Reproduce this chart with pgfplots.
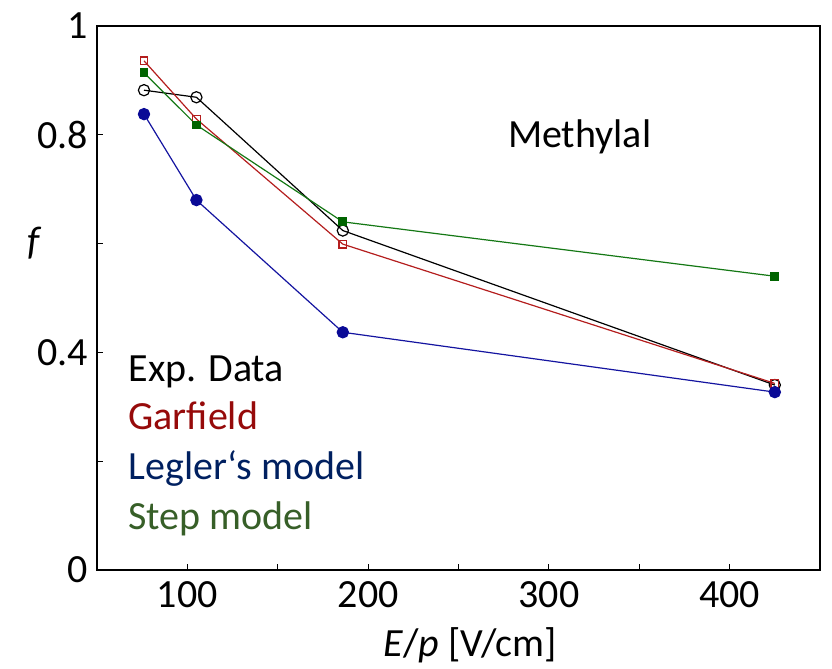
\documentclass[border=0pt]{standalone}
\usepackage{pgfplots}
\pgfplotsset{compat=1.18}
\usepackage{fontspec}
\setmainfont{Carlito}
\definecolor{gline}{RGB}{180,30,30}
\definecolor{gtext}{RGB}{150,10,10}
\definecolor{lline}{RGB}{20,20,160}
\definecolor{lmark}{RGB}{10,10,150}
\definecolor{ltext}{RGB}{0,32,96}
\definecolor{sline}{RGB}{20,120,20}
\definecolor{smark}{RGB}{0,100,0}
\definecolor{stext}{RGB}{55,95,40}
\begin{document}
\begin{tikzpicture}
\begin{axis}[
  scale only axis,
  width=361.5pt, height=272pt,
  xmin=50, xmax=450, ymin=0, ymax=1,
  xtick={100,200,300,400},
  minor xtick={150,250,350},
  ytick={0,0.4,0.8,1},
  yticklabels={0,0.4,0.8,1},
  minor ytick={0.2,0.6},
  xtick pos=bottom, ytick pos=left,
  tick align=inside,
  major tick length=3pt, minor tick length=3pt,
  every tick/.style={black, line width=0.5pt},
  axis line style={line width=0.6pt},
  /pgf/number format/assume math mode=true,
  ticklabel style={font=\fontsize{20}{24}\selectfont},
  xticklabel style={yshift=-2pt},
  yticklabel style={xshift=-1pt},
  xlabel={\textit{E}/\textit{p} [V/cm]},
  xlabel style={font=\fontsize{20}{24}\selectfont, at={(axis description cs:0.516,-0.138)}, anchor=center},
  ylabel={\textit{f}},
  ylabel style={font=\fontsize{20}{24}\selectfont, at={(axis description cs:-0.086,0.6)}, anchor=center, rotate=-90},
  clip=false,
]
\addplot[black, line width=0.6pt, mark=o, mark size=2.8pt, mark options={line width=0.6pt}]
  coordinates {(76,0.882) (105,0.869) (186,0.624) (425,0.340)};
\addplot[gline, line width=0.6pt, mark=square, mark size=1.9pt, mark options={line width=0.6pt}]
  coordinates {(76,0.936) (105,0.829) (186,0.599) (425,0.343)};
\addplot[lline, line width=0.6pt, mark=*, mark size=2.8pt, mark options={fill=lmark, draw=lmark}]
  coordinates {(76,0.838) (105,0.680) (186,0.437) (425,0.327)};
\addplot[sline, line width=0.6pt, mark=square*, mark size=1.9pt, mark options={fill=smark, draw=smark}]
  coordinates {(76,0.914) (105,0.818) (186,0.640) (425,0.540)};
\node[anchor=base west, inner sep=0pt, font=\fontsize{20}{24}\selectfont] at (axis description cs:0.568,0.776) {Methylal};
\node[anchor=base west, inner sep=0pt, font=\fontsize{20}{24}\selectfont, text=black] at (axis description cs:0.043,0.347) {Exp. Data};
\node[anchor=base west, inner sep=0pt, font=\fontsize{20}{24}\selectfont, text=gtext] at (axis description cs:0.043,0.259) {Garfield};
\node[anchor=base west, inner sep=0pt, font=\fontsize{20}{24}\selectfont, text=ltext] at (axis description cs:0.043,0.167) {Legler‘s model};
\node[anchor=base west, inner sep=0pt, font=\fontsize{20}{24}\selectfont, text=stext] at (axis description cs:0.043,0.075) {Step model};
\end{axis}
\pgfresetboundingbox
\path ([shift={(-48.5pt,-49pt)}]current axis.south west) rectangle ([shift={(6pt,13pt)}]current axis.north east);
\end{tikzpicture}
\end{document}
